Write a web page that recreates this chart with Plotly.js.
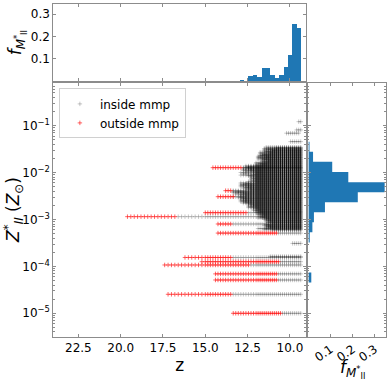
<!DOCTYPE html>
<html><head><meta charset="utf-8">
<script src="https://cdn.plot.ly/plotly-3.0.1.min.js"></script>
<style>html,body{margin:0;padding:0;background:#fff}#c{width:390px;height:381px}</style>
</head><body><div id="c"></div><script>
// snapshot redshifts at which the tracks are sampled
const snapshotZ = [20.0,19.8,19.6,19.4,19.2,19.0,18.8,18.6,18.4,18.2,18.0,17.8,17.6,17.4,17.2,17.0,16.8,16.6,16.4,16.2,16.0,15.8,15.6,15.4,15.2,15.0,14.85,14.7,14.55,14.4,14.25,14.1,13.95,13.8,13.65,13.5,13.35,13.2,13.05,12.9,12.75,12.6,12.45,12.3,12.15,12.0,11.88,11.76,11.64,11.52,11.4,11.28,11.16,11.04,10.92,10.8,10.68,10.56,10.44,10.32,10.2,10.08,9.96,9.84,9.72,9.6,9.48,9.36];

// outside-mmp segments: log10 Z, highest z, lowest z
const outLogZ = [-1.895,-2.386,-2.514,-2.94,-2.855,-3.096,-3.29,-3.81,-3.90,-3.97,-4.16,-4.29,-4.595,-5.0];
const outFrom = [14.67,13.9,14.27,19.6,15.0,14.33,14.33,16.34,15.32,17.58,14.53,14.53,17.28,13.44];
const outTo   = [12.76,13.44,13.35,16.7,12.56,13.38,10.69,13.44,10.59,12.36,10.79,10.79,13.44,10.49];

// inside-mmp single segments: log10 Z, highest z, lowest z
const inLogZ = [-1.895,-2.386,-2.514,-2.94,-2.855,-3.096,-3.29,-3.81,-3.90,-3.97,-4.16,-4.29,-4.595,-5.0,-0.915,-1.09,-1.16,-1.34,-3.51,-3.79];
const inFrom = [12.76,13.44,13.35,16.7,12.56,13.38,10.69,13.44,10.59,12.36,10.79,10.79,13.44,10.49,9.48,9.6,10.2,10.0,9.84,11.16];
const inTo   = [9.36,9.36,9.36,9.36,9.36,9.36,9.36,9.36,9.36,9.36,9.36,9.36,9.36,9.36,9.36,9.36,9.48,9.36,9.36,9.36];

// inside-mmp dense cloud: log10 Z and highest z (all run to the last snapshot)
const cloudLogZ = [-1.460,-1.473,-1.488,-1.501,-1.514,-1.529,-1.542,-1.556,-1.569,-1.583,-1.598,-1.611,-1.624,-1.638,-1.652,-1.667,-1.679,-1.693,-1.707,-1.721,-1.735,-1.748,-1.763,-1.777,-1.790,-1.804,-1.818,-1.833,-1.846,-1.859,-1.873,-1.888,-1.902,-1.915,-1.929,-1.944,-1.957,-1.971,-1.985,-1.998,-2.012,-2.027,-2.040,-2.054,-2.068,-2.081,-2.095,-2.110,-2.123,-2.137,-2.151,-2.164,-2.179,-2.192,-2.206,-2.220,-2.234,-2.248,-2.261,-2.276,-2.289,-2.303,-2.317,-2.331,-2.345,-2.358,-2.372,-2.400,-2.414,-2.428,-2.442,-2.455,-2.470,-2.483,-2.497,-2.525,-2.539,-2.553,-2.566,-2.580,-2.594,-2.608,-2.622,-2.636,-2.650,-2.664,-2.677,-2.691,-2.705,-2.719,-2.733,-2.747,-2.761,-2.775,-2.789,-2.803,-2.817,-2.831,-2.844,-2.869,-2.883,-2.897,-2.911,-2.925,-2.953,-2.967,-2.981,-2.995,-3.009,-3.023,-3.037,-3.051,-3.065,-3.079,-3.110,-3.124,-3.138,-3.152,-3.166,-3.180,-3.194,-3.208,-3.222];
const cloudFrom = [11.40,10.90,11.52,11.28,11.58,11.04,11.58,11.40,11.76,11.16,11.76,11.52,11.64,11.76,11.88,11.40,11.88,11.64,11.88,11.52,11.64,11.28,11.64,11.52,12.00,11.76,12.00,11.64,12.00,12.60,12.45,12.60,12.75,12.45,12.75,12.30,12.75,12.60,12.15,12.90,12.00,12.75,12.15,12.90,12.45,12.30,12.00,12.30,12.15,12.30,12.00,12.30,12.15,12.45,12.00,12.90,12.60,12.90,12.75,12.90,12.45,12.90,12.60,12.75,12.45,12.60,12.30,13.35,13.05,13.35,12.75,13.20,12.90,12.60,12.90,13.05,12.90,12.75,12.90,12.60,12.90,12.75,12.90,12.60,12.75,12.45,12.30,12.45,12.15,12.45,12.30,12.45,12.00,12.15,11.88,12.15,12.00,11.76,12.00,11.88,11.64,11.88,11.52,11.76,11.64,11.88,11.40,11.52,11.28,11.40,11.16,11.40,11.28,11.04,11.40,11.52,11.28,11.40,11.16,11.40,11.88,11.52,11.04];

// top histogram (fraction vs z)
const topBinZ = [9.46,9.72,9.98,10.24,10.50,10.76,11.02,11.28,11.54,11.80,12.06,12.32,12.58,12.84,13.10,13.36,13.62,13.88,14.14];
const topFrac = [0.240,0.257,0.116,0.065,0.028,0.015,0.028,0.061,0.061,0.021,0.028,0.024,0.0,0.004,0.0015,0.001,0.0015,0.001,0.001];

// right histogram (fraction vs log10 Z)
const rightLogEdges = [-1.341,-1.554,-1.768,-1.990,-2.204,-2.418,-2.632,-2.846,-3.060,-3.274,-3.488,-3.702,-3.916,-4.130,-4.344];
const rightFrac = [0.004,0.020,0.107,0.180,0.345,0.223,0.074,0.024,0.017,0.005,0.0,0.0,0.0,0.012];

// tick labels
const zTickVals = [22.5,20,17.5,15,12.5,10];
const zTickText = ['22.5','20.0','17.5','15.0','12.5','10.0'];
const metTickVals = [1e-5,1e-4,1e-3,1e-2,1e-1];
const metTickText = ['10<sup>−5</sup>','10<sup>−4</sup>','10<sup>−3</sup>','10<sup>−2</sup>','10<sup>−1</sup>'];
const fracTickVals = [0.1,0.2,0.3];
const fracTickText = ['0.1','0.2','0.3'];

function expand(logZ, from, to, xs, ys){
  for (let i=0;i<logZ.length;i++){
    const lo = to ? to[i] : snapshotZ[snapshotZ.length-1];
    for (const s of snapshotZ){
      if (s <= from[i]+1e-6 && s >= lo-1e-6){ xs.push(s); ys.push(Math.pow(10, logZ[i])); }
    }
  }
}
const inX=[], inY=[];
expand(cloudLogZ, cloudFrom, null, inX, inY);
expand(inLogZ, inFrom, inTo, inX, inY);
const outX=[], outY=[];
expand(outLogZ, outFrom, outTo, outX, outY);

const hx=[0], hy=[Math.pow(10,rightLogEdges[0])];
for (let i=0;i<rightFrac.length;i++){
  hx.push(rightFrac[i]); hy.push(Math.pow(10,rightLogEdges[i]));
  hx.push(rightFrac[i]); hy.push(Math.pow(10,rightLogEdges[i+1]));
}
hx.push(0); hy.push(Math.pow(10,rightLogEdges[rightLogEdges.length-1]));

const blue = '#1f77b4';
const spine = '#8c8c8c';
const F = 'DejaVu Sans, sans-serif';
const fTitle = '<i>f</i><sub><i>M</i><sup>*</sup><sub>II</sub></sub>';

const traces = [
  {type:'scatter', mode:'markers', x:inX, y:inY, xaxis:'x', yaxis:'y', name:'inside mmp',
   marker:{symbol:'cross-thin', size:3.2, color:'rgba(0,0,0,0.22)', line:{width:1, color:'rgba(0,0,0,0.22)'}}},
  {type:'scatter', mode:'markers', x:outX, y:outY, xaxis:'x', yaxis:'y', name:'outside mmp',
   marker:{symbol:'cross-thin', size:3.2, color:'rgba(255,0,0,0.6)', line:{width:1, color:'rgba(255,0,0,0.6)'}}},
  {type:'bar', x:topBinZ, y:topFrac, width:0.26, xaxis:'x2', yaxis:'y2', showlegend:false,
   marker:{color:blue, line:{width:0}}},
  {type:'scatter', mode:'lines', x:hx, y:hy, xaxis:'x3', yaxis:'y3', showlegend:false,
   fill:'toself', fillcolor:blue, line:{width:0, color:blue}}
];

const common = {showgrid:false, zeroline:false, showline:true, linecolor:spine, linewidth:1, mirror:'ticks',
  ticks:'inside', ticklen:3, tickcolor:spine, automargin:false, tickfont:{family:F, size:12, color:'#000'}};

const layout = {
  width:390, height:381, margin:{l:0,r:0,t:0,b:0}, paper_bgcolor:'#fff', plot_bgcolor:'#fff',
  font:{family:F, color:'#000'}, bargap:0, showlegend:true,
  legend:{x:0.151, y:0.768, xanchor:'left', yanchor:'top', bgcolor:'#fff', bordercolor:'#d0d0d0', borderwidth:1,
    font:{family:F, size:12, color:'#000'}, tracegroupgap:0},
  annotations:[
    {text:'<i>Z</i><sup>*</sup><sub><i>II</i></sub> (<i>Z</i><sub>⊙</sub>)', xref:'paper', yref:'paper',
     x:0.036, y:0.449, xanchor:'center', yanchor:'middle', textangle:-90, showarrow:false,
     font:{family:F, size:17, color:'#000'}},
    {text:fTitle, xref:'paper', yref:'paper', x:0.9026, y:0.031, xanchor:'center', yanchor:'middle',
     showarrow:false, font:{family:F, size:17, color:'#000'}}
  ],
  xaxis:Object.assign({}, common, {domain:[0.1367,0.7846], anchor:'y', range:[23.98,9.05],
    tickvals:zTickVals, ticktext:zTickText,
    title:{text:'z', font:{family:F, size:17}, standoff:2}}),
  yaxis:Object.assign({}, common, {domain:[0.1163,0.7814], anchor:'x', type:'log', range:[-5.499,-0.096],
    tickvals:metTickVals, ticktext:metTickText,
    minor:{ticks:'inside', ticklen:1.5, tickcolor:spine, dtick:'D1'}}),
  xaxis2:Object.assign({}, common, {domain:[0.1367,0.7846], anchor:'y2', matches:'x', range:[23.98,9.05],
    tickvals:zTickVals, showticklabels:false}),
  yaxis2:Object.assign({}, common, {domain:[0.7866,0.9895], anchor:'x2', range:[0,0.345],
    tickvals:fracTickVals, ticktext:fracTickText,
    title:{text:fTitle, font:{family:F, size:17}, standoff:4}}),
  xaxis3:Object.assign({}, common, {domain:[0.7897,0.9897], anchor:'y3', range:[-0.003,0.351],
    tickvals:fracTickVals, ticktext:fracTickText, tickangle:-35}),
  yaxis3:Object.assign({}, common, {domain:[0.1163,0.7814], anchor:'x3', type:'log', matches:'y', range:[-5.499,-0.096],
    tickvals:metTickVals, showticklabels:false,
    minor:{ticks:'inside', ticklen:1.5, tickcolor:spine, dtick:'D1'}})
};

Plotly.newPlot('c', traces, layout, {staticPlot:true, displayModeBar:false});
</script></body></html>
